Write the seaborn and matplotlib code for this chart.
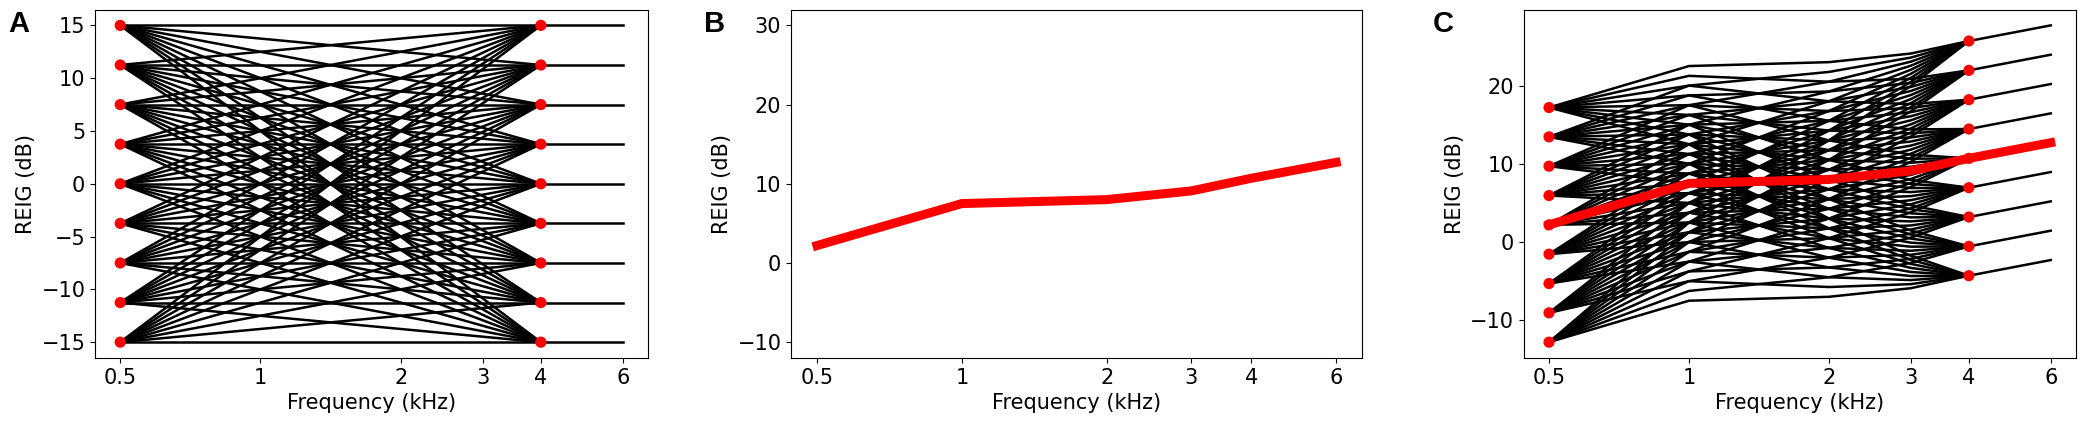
import numpy as np
import pandas as pd
import matplotlib
matplotlib.use("Agg")
import matplotlib.pyplot as plt
import seaborn as sns

# values
freqs = [0.5, 1, 2, 3, 4, 6]
reig = [2.2, 7.5, 8.0, 9.1, 10.7, 12.7]
levels = [-15, -11.25, -7.5, -3.75, 0, 3.75, 7.5, 11.25, 15]
tick_freqs = [0.5, 1, 2, 3, 4, 6]
tick_labels = ["0.5", "1", "2", "3", "4", "6"]

plt.rcParams["font.family"] = ["DejaVu Sans"]
plt.rcParams["font.size"] = 15


def build_lines(base):
    # each line runs from level a at 0.5 kHz to level b at 4 kHz,
    # straight on the log axis
    logf = np.log2(freqs[:5])
    rows = []
    k = 0
    for a in levels:
        for b in levels:
            off = np.interp(logf, [np.log2(0.5), np.log2(4)], [a, b])
            for f, o, r in zip(freqs[:5], off, base[:5]):
                rows.append(dict(line=k, freq=f, gain=o + r))
            k += 1
    return pd.DataFrame(rows)


def build_tails(base):
    # after 4 kHz every level just follows the base curve
    rows = []
    for k, lv in enumerate(levels):
        for f, r in zip(freqs[4:], base[4:]):
            rows.append(dict(line=k, freq=f, gain=lv + r))
    return pd.DataFrame(rows)


def end_points(base):
    rows = []
    for f, r in [(freqs[0], base[0]), (freqs[4], base[4])]:
        for lv in levels:
            rows.append(dict(freq=f, gain=lv + r))
    return pd.DataFrame(rows)


def style_axis(ax):
    ax.set_xscale("log")
    ax.set_xticks(tick_freqs)
    ax.set_xticklabels(tick_labels)
    ax.xaxis.set_minor_locator(matplotlib.ticker.NullLocator())
    ax.set_xlabel("Frequency (kHz)")
    ax.set_ylabel("REIG (dB)")


def plot_grid(ax, base):
    line_kw = dict(x="freq", y="gain", units="line", estimator=None,
                   color="k", lw=1.8, ax=ax, legend=False)
    sns.lineplot(build_lines(base), **line_kw)
    sns.lineplot(build_tails(base), **line_kw)


fig = plt.figure(figsize=(20.85, 4.26), dpi=100)
bottom, height = 0.1596, 0.818
axA = fig.add_axes([0.0456, bottom, 0.2652, height])
axB = fig.add_axes([0.3794, bottom, 0.2739, height])
axC = fig.add_axes([0.7309, bottom, 0.2647, height])

zero = [0] * len(freqs)

# A: flat grid
plot_grid(axA, zero)
sns.scatterplot(end_points(zero), x="freq", y="gain", color="red", s=65,
                edgecolor="none", zorder=3, ax=axA, legend=False)
style_axis(axA)

# B: REIG curve
sns.lineplot(x=freqs, y=reig, color="red", lw=6.5, ax=axB)
axB.set_ylim(-12, 32)
style_axis(axB)

# C: grid added to REIG
plot_grid(axC, reig)
sns.lineplot(x=freqs, y=reig, color="red", lw=6.5, ax=axC, zorder=3)
sns.scatterplot(end_points(reig), x="freq", y="gain", color="red", s=65,
                edgecolor="none", zorder=4, ax=axC, legend=False)
style_axis(axC)

for lab, x in [("A", 8), ("B", 704), ("C", 1433)]:
    fig.text(x / 2085, 1 - 10 / 426, lab, ha="left", va="top", fontsize=21,
             fontweight="bold", family=["Liberation Sans", "DejaVu Sans"])

fig.savefig("out.png", dpi=100)
